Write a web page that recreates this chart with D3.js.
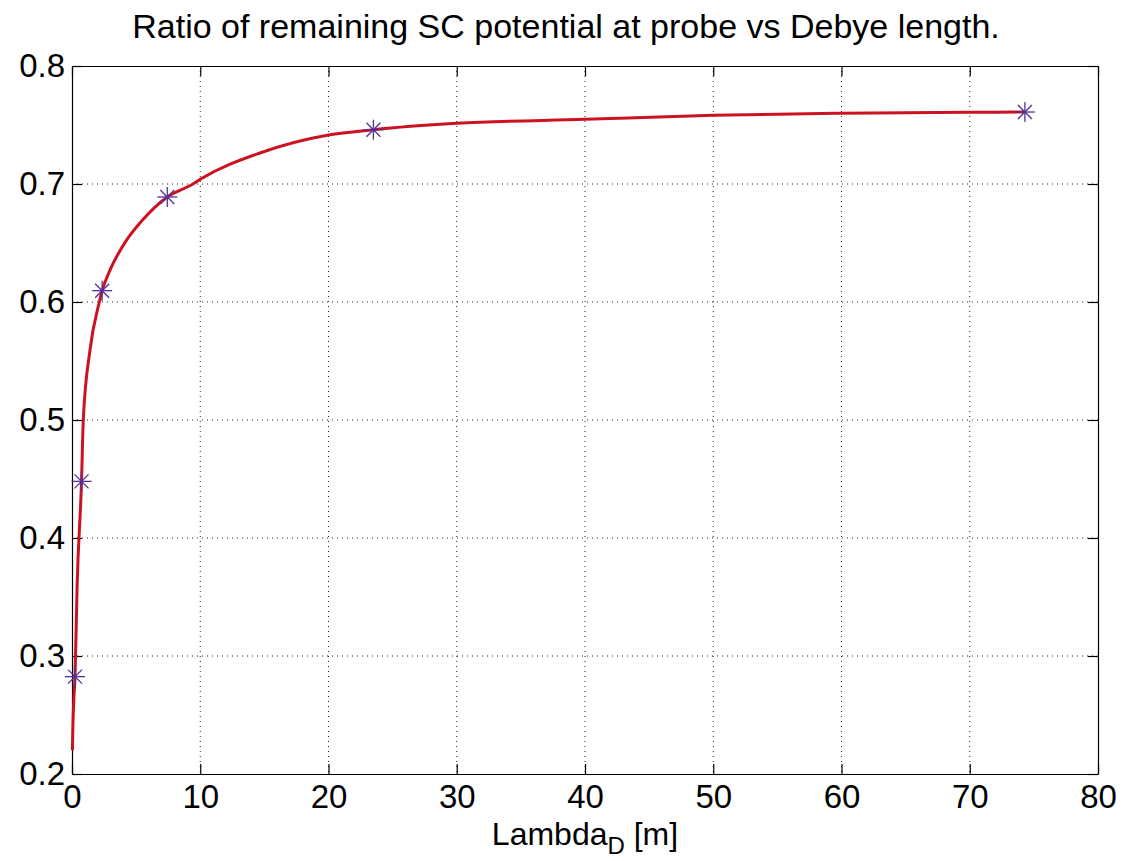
<!DOCTYPE html>
<html>
<head>
<meta charset="utf-8">
<script src="https://cdn.jsdelivr.net/npm/d3@7"></script>
<style>
  body { margin: 0; background: #fff; }
  text { font-family: "Liberation Sans", Arial, sans-serif; fill: #000; }
</style>
</head>
<body>
<script>
// sample points (Debye length [m], ratio)
const lambdaPts = [0.235, 0.743, 2.35, 7.43, 23.5, 74.3];
const ratioPts = [0.2825, 0.448, 0.6096, 0.689, 0.746, 0.761];

// fitted curve
const curveX = [0.03, 0.08, 0.15, 0.235, 0.4, 0.743, 0.88, 1.4, 2.13, 2.35, 2.96, 4.26, 5.5, 7.43, 9.43, 10, 14.66, 20, 23.5, 30, 40, 50, 60, 70, 74.3];
const curveY = [0.22, 0.245, 0.265, 0.2825, 0.36, 0.448, 0.5, 0.559, 0.6, 0.6096, 0.627, 0.6525, 0.6695, 0.689, 0.7, 0.704, 0.7263, 0.7415, 0.746, 0.7514, 0.7548, 0.7582, 0.7599, 0.7608, 0.761];

const xTicks = [0, 10, 20, 30, 40, 50, 60, 70, 80];
const yTicks = [0.2, 0.3, 0.4, 0.5, 0.6, 0.7, 0.8];

const W = 1129, H = 861;
const margin = { top: 66, right: 31, bottom: 87, left: 72 },
      width = W - margin.left - margin.right,
      height = H - margin.top - margin.bottom;

let x = d3.scaleLinear().domain([0, 80]).range([0, width]);
let y = d3.scaleLinear().domain([0.2, 0.8]).range([height, 0]);

let svg = d3.select("body").append("svg")
    .attr("width", W)
    .attr("height", H);

let g = svg.append("g")
    .attr("transform", "translate(" + margin.left + "," + margin.top + ")");

// grid
g.append("g").selectAll("line")
    .data(xTicks.slice(1, -1))
    .enter().append("line")
    .attr("x1", d => x(d)).attr("x2", d => x(d))
    .attr("y1", 0).attr("y2", height)
    .attr("stroke", "#222").attr("stroke-width", 1)
    .attr("stroke-dasharray", "1,4");

g.append("g").selectAll("line")
    .data(yTicks.slice(1, -1))
    .enter().append("line")
    .attr("y1", d => y(d)).attr("y2", d => y(d))
    .attr("x1", 0).attr("x2", width)
    .attr("stroke", "#222").attr("stroke-width", 1)
    .attr("stroke-dasharray", "1,4");

// axes with inner ticks
let xAxis = g.append("g")
    .attr("transform", "translate(0," + height + ")")
    .call(d3.axisBottom(x).tickValues(xTicks).tickSizeInner(-10).tickSizeOuter(0).tickPadding(11).tickFormat(d3.format("d")));
let yAxis = g.append("g")
    .call(d3.axisLeft(y).tickValues(yTicks).tickSizeInner(-10).tickSizeOuter(0).tickPadding(7).tickFormat(d3.format(".1f")));
let xTop = g.append("g")
    .call(d3.axisTop(x).tickValues(xTicks).tickSizeInner(-10).tickSizeOuter(0).tickFormat(""));
let yRight = g.append("g")
    .attr("transform", "translate(" + width + ",0)")
    .call(d3.axisRight(y).tickValues(yTicks).tickSizeInner(-10).tickSizeOuter(0).tickFormat(""));

[xAxis, yAxis, xTop, yRight].forEach(a => {
    a.select(".domain").attr("stroke", "#000").attr("stroke-width", 1.2);
    a.selectAll(".tick line").attr("stroke", "#000").attr("stroke-width", 1.2);
    a.selectAll("text").style("font-size", "33px").attr("fill", "#000");
});
xAxis.selectAll("text").attr("dy", "0.71em");

// curve
let line = d3.line()
    .x((d, i) => x(curveX[i]))
    .y(d => y(d))
    .curve(d3.curveMonotoneX);

g.append("path")
    .datum(curveY)
    .attr("fill", "none")
    .attr("stroke", "#cc1220")
    .attr("stroke-width", 3)
    .attr("d", line);

// asterisk markers
let r = 10, rd = 7;
let stars = g.selectAll(".star")
    .data(lambdaPts)
    .enter().append("g")
    .attr("class", "star")
    .attr("transform", (d, i) => "translate(" + x(d) + "," + y(ratioPts[i]) + ")");
[[-r, 0, r, 0], [0, -r, 0, r], [-rd, -rd, rd, rd], [-rd, rd, rd, -rd]].forEach(s => {
    stars.append("line")
        .attr("x1", s[0]).attr("y1", s[1]).attr("x2", s[2]).attr("y2", s[3])
        .attr("stroke", "#55309a").attr("stroke-width", 1.3);
});

// title
svg.append("text")
    .attr("x", 566).attr("y", 38)
    .attr("text-anchor", "middle")
    .style("font-size", "34px")
    .text("Ratio of remaining SC potential at probe vs Debye length.");

// x label
let xl = svg.append("text")
    .attr("x", margin.left + width / 2).attr("y", 845)
    .attr("text-anchor", "middle")
    .style("font-size", "32px");
xl.append("tspan").text("Lambda");
xl.append("tspan").attr("dy", 9).style("font-size", "24px").text("D");
xl.append("tspan").attr("dy", -9).text(" [m]");
</script>
</body>
</html>
